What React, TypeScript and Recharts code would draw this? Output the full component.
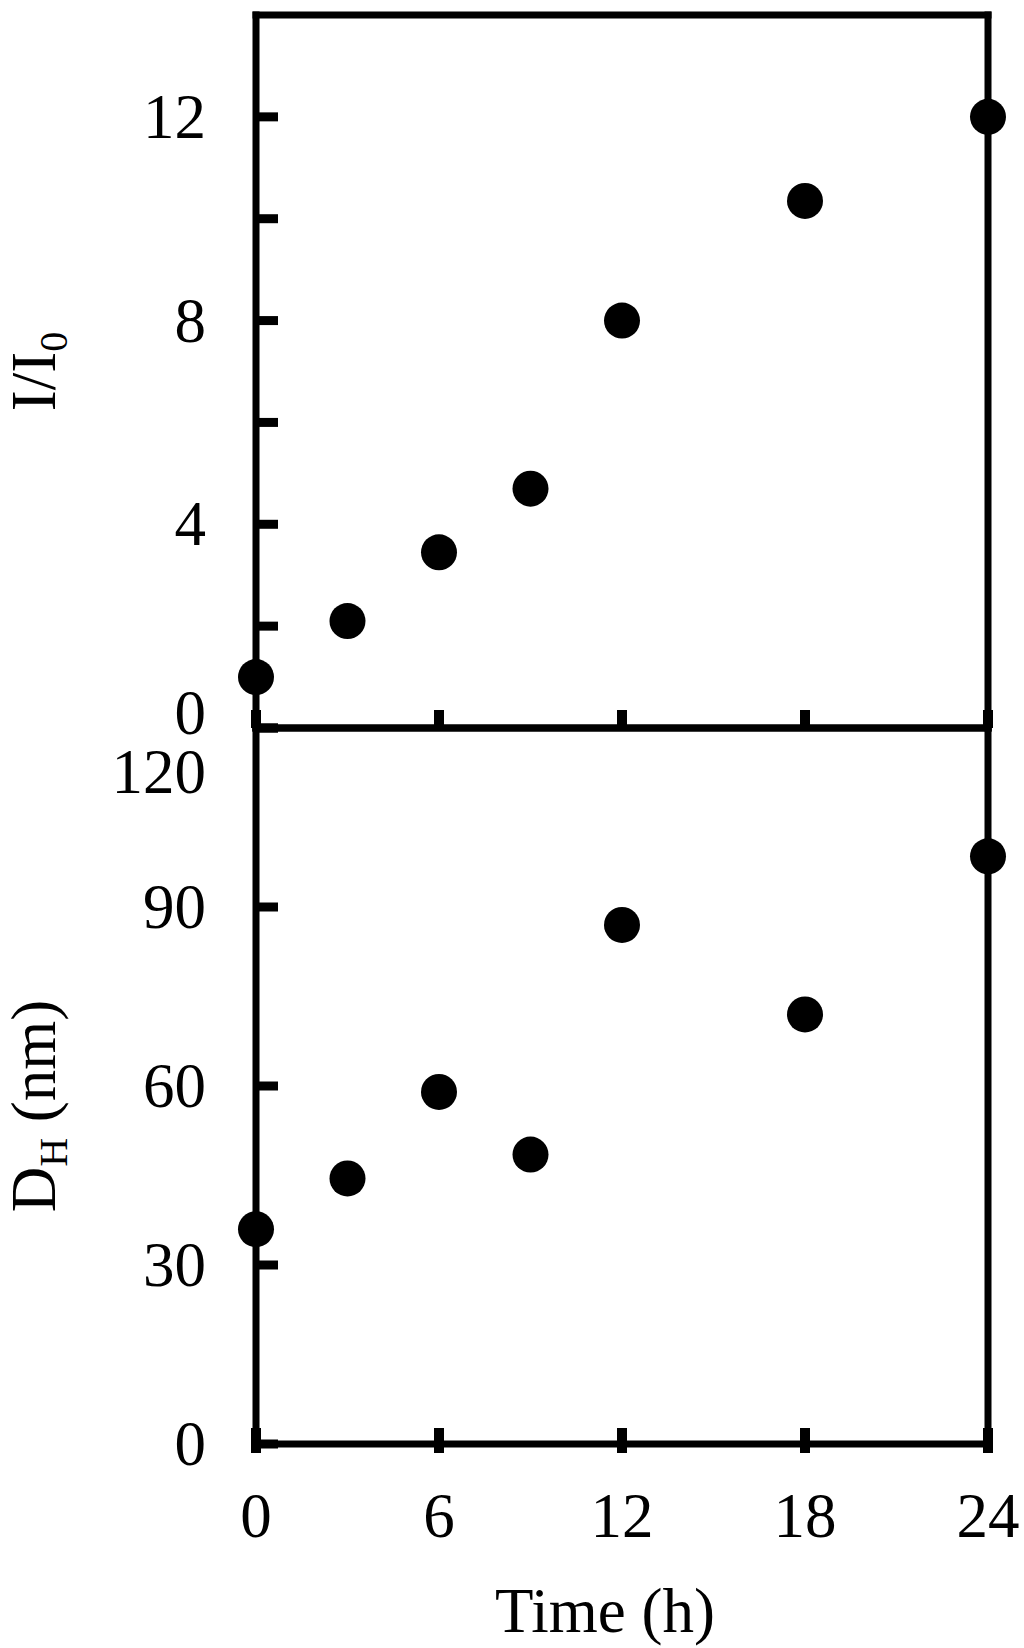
import React from 'react';
import { ScatterChart, Scatter, XAxis, YAxis, ReferenceLine } from 'recharts';

const times = [0, 3, 6, 9, 12, 18, 24];
const intensity = [1.0, 2.1, 3.45, 4.7, 8.0, 10.35, 12.0];
const diameter = [36, 44.5, 59, 48.5, 87, 72, 98.5];

const xTicks = [0, 6, 12, 18, 24];
const topYTicks = [0, 2, 4, 6, 8, 10, 12];
const topYLabeled = [0, 4, 8, 12];
const bottomYTicks = [0, 30, 60, 90, 120];

const topData = times.map((t, i) => ({ t, v: intensity[i] }));
const bottomData = times.map((t, i) => ({ t, v: diameter[i] }));

const FONT = '"Liberation Serif", "Times New Roman", serif';
const FS = 63;

const Dot = (props: any) => <circle cx={props.cx} cy={props.cy} r={18} fill="#000" />;

const TopYTick = (props: any) => {
  const { x, y, payload } = props;
  const v = payload.value;
  return (
    <g>
      <line x1={x} x2={x + 22} y1={y} y2={y} stroke="#000" strokeWidth={9} />
      {topYLabeled.includes(v) && (
        <text x={x - 50} y={y + 21 + (v === 0 ? -15 : 0)} textAnchor="end" fontFamily={FONT} fontSize={FS} fill="#000">
          {v}
        </text>
      )}
    </g>
  );
};

const BottomYTick = (props: any) => {
  const { x, y, payload } = props;
  const v = payload.value;
  return (
    <g>
      <line x1={x} x2={x + 22} y1={y} y2={y} stroke="#000" strokeWidth={9} />
      <text x={x - 50} y={y + 21 + (v === 120 ? 44 : 0)} textAnchor="end" fontFamily={FONT} fontSize={FS} fill="#000">
        {v}
      </text>
    </g>
  );
};

const TopXTick = (props: any) => {
  const { x, y } = props;
  return <line x1={x} x2={x} y1={y} y2={y - 18} stroke="#000" strokeWidth={10} />;
};

const BottomXTick = (props: any) => {
  const { x, y, payload } = props;
  return (
    <g>
      <line x1={x} x2={x} y1={y - 16} y2={y + 9} stroke="#000" strokeWidth={10} />
      <text x={x} y={y + 93} textAnchor="middle" fontFamily={FONT} fontSize={FS} fill="#000">
        {payload.value}
      </text>
    </g>
  );
};

const TopYLabel = (props: any) => {
  const vb = props.viewBox || {};
  const cy = (vb.y ?? 15) + (vb.height ?? 713) / 2;
  return (
    <text transform={`translate(55, ${cy}) rotate(-90)`} textAnchor="middle" fontFamily={FONT} fontSize={FS} fill="#000">
      I/I<tspan fontSize={40} dy={12}>0</tspan>
    </text>
  );
};

const BottomYLabel = (props: any) => {
  const vb = props.viewBox || {};
  const cy = (vb.y ?? 8) + (vb.height ?? 716) / 2 + 20;
  return (
    <text transform={`translate(55, ${cy}) rotate(-90)`} textAnchor="middle" fontFamily={FONT} fontSize={FS} fill="#000">
      D<tspan fontSize={40} dy={12}>H</tspan>
      <tspan dy={-12}> (nm)</tspan>
    </text>
  );
};

const XLabel = (props: any) => {
  const vb = props.viewBox || {};
  const cx = (vb.x ?? 256) + (vb.width ?? 732) / 2 - 17;
  const y = (vb.y ?? 724) + 188;
  return (
    <text x={cx} y={y} textAnchor="middle" fontFamily={FONT} fontSize={FS} fill="#000">
      Time (h)
    </text>
  );
};

const axisLineStyle = { stroke: '#000', strokeWidth: 7, strokeLinecap: 'square' as const };

export default function App() {
  return (
    <div style={{ position: 'absolute', left: 0, top: 0, width: 1024, height: 1648, background: '#fff' }}>
      <div style={{ position: 'absolute', left: 0, top: 0 }}>
        <ScatterChart width={1024} height={760} margin={{ top: 15, right: 36, bottom: 31, left: 0 }}>
          <XAxis
            type="number"
            dataKey="t"
            domain={[0, 24]}
            ticks={xTicks}
            interval={0}
            height={1}
            tickSize={0}
            tickMargin={0}
            tickLine={false}
            axisLine={axisLineStyle}
            tick={<TopXTick />}
          />
          <YAxis
            type="number"
            dataKey="v"
            domain={[0, 14]}
            ticks={topYTicks}
            interval={0}
            width={256}
            tickSize={0}
            tickMargin={0}
            tickLine={false}
            axisLine={axisLineStyle}
            tick={<TopYTick />}
            label={{ content: <TopYLabel /> }}
          />
          <ReferenceLine x={24} stroke="#000" strokeWidth={7} strokeLinecap="square" />
          <ReferenceLine y={14} stroke="#000" strokeWidth={7} strokeLinecap="square" />
          <Scatter data={topData} fill="#000" shape={<Dot />} isAnimationActive={false} />
        </ScatterChart>
      </div>
      <div style={{ position: 'absolute', left: 0, top: 720 }}>
        <ScatterChart width={1024} height={928} margin={{ top: 8, right: 36, bottom: 4, left: 0 }}>
          <XAxis
            type="number"
            dataKey="t"
            domain={[0, 24]}
            ticks={xTicks}
            interval={0}
            height={200}
            tickSize={0}
            tickMargin={0}
            tickLine={false}
            axisLine={axisLineStyle}
            tick={<BottomXTick />}
            label={{ content: <XLabel /> }}
          />
          <YAxis
            type="number"
            dataKey="v"
            domain={[0, 120]}
            ticks={bottomYTicks}
            interval={0}
            width={256}
            tickSize={0}
            tickMargin={0}
            tickLine={false}
            axisLine={axisLineStyle}
            tick={<BottomYTick />}
            label={{ content: <BottomYLabel /> }}
          />
          <ReferenceLine x={24} stroke="#000" strokeWidth={7} strokeLinecap="square" />
          <ReferenceLine y={120} stroke="#000" strokeWidth={7} strokeLinecap="square" />
          <Scatter data={bottomData} fill="#000" shape={<Dot />} isAnimationActive={false} />
        </ScatterChart>
      </div>
    </div>
  );
}
